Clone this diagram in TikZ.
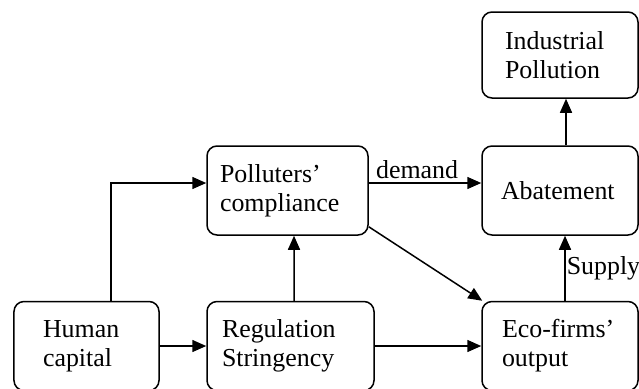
\documentclass[tikz,border=0pt]{standalone}
\usepackage{fontspec}
\setmainfont{Liberation Serif}
\usepackage{tikz}
\usetikzlibrary{arrows.meta, calc}

\begin{document}
\begin{tikzpicture}[x=1bp, y=-1bp,
	box/.style 2 args={draw, line width=1.5bp, rounded corners=10bp, align=left,
		font=\fontsize{26}{29}\selectfont, inner ysep=0pt, inner xsep=#1,
		text width=#2-2*#1, minimum height=89bp},
	arr/.style={line width=1.5bp, -{Triangle[length=14bp,width=12bp]}},
	lbl/.style={font=\fontsize{26}{29}\selectfont}]
	\useasboundingbox (0,0) rectangle (639,388);
	\node [box={29bp}{145bp}] (human) at (86.5,346) {Human\\capital};
	\node [box={15bp}{167bp}] (regul) at (290.5,346) {Regulation\\Stringency};
	\node [box={20bp}{156bp}] (eco) at (560,346) {Eco-firms'\\output};
	\node [box={13bp}{161bp}] (poll) at (287.5,190.5) {Polluters'\\compliance};
	\node [box={19bp}{156bp}] (abat) at (560,190.5) {Abatement};
	\node [box={23bp}{156bp}, minimum height=86bp] (indus) at (560,55) {Industrial\\Pollution};
	\draw [arr] ([xshift=24.5bp]human.north) |- ([yshift=7.5bp]poll.west);
	\draw [arr] (human.east) -- (regul.west);
	\draw [arr] ([xshift=3.5bp]regul.north) -- ([xshift=6.5bp]poll.south);
	\draw [arr] (regul.east) -- (eco.west);
	\draw [arr] ([yshift=9bp]poll.south east) -- ([xshift=1bp]eco.north west);
	\draw [arr] ([yshift=7.5bp]poll.east) -- ([yshift=7.5bp]abat.west)
		node [lbl, pos=0.43, above] {demand};
	\draw [arr] ([xshift=6bp]abat.north) -- ([xshift=6bp]indus.south);
	\draw [arr] ([xshift=5bp]eco.north) -- ([xshift=5bp]abat.south)
		node [lbl, midway, right, inner sep=1bp] {Supply};
\end{tikzpicture}
\end{document}
